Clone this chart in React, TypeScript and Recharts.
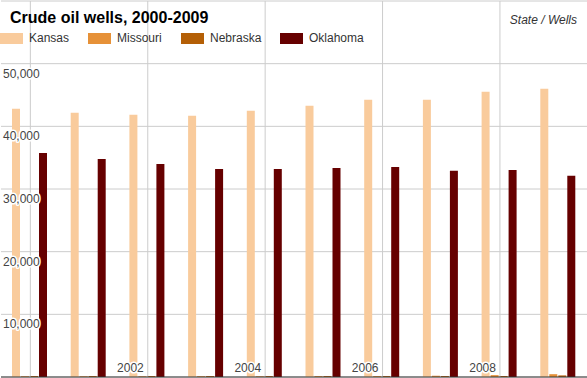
import React from 'react';
import {
  BarChart,
  Bar,
  XAxis,
  YAxis,
  CartesianGrid,
  ReferenceLine,
} from 'recharts';

// Data (wells per state per year)
const years = ['2000', '2001', '2002', '2003', '2004', '2005', '2006', '2007', '2008', '2009'];
const kansas = [42800, 42150, 41850, 41700, 42500, 43300, 44250, 44250, 45500, 46000];
const missouri = [120, 120, 120, 130, 130, 150, 150, 200, 300, 450];
const nebraska = [150, 150, 150, 150, 150, 150, 150, 150, 160, 250];
const oklahoma = [35750, 34800, 34000, 33200, 33200, 33350, 33500, 32900, 33050, 32100];

const yTicks = [0, 10000, 20000, 30000, 40000, 50000, 60000];
const labelledYears = ['2002', '2004', '2006', '2008'];
const gridYears = years.filter((_, i) => i % 2 === 0);

const series = [
  { key: 'Kansas', color: '#f9cb9c', values: kansas },
  { key: 'Missouri', color: '#e69138', values: missouri },
  { key: 'Nebraska', color: '#b45f06', values: nebraska },
  { key: 'Oklahoma', color: '#660000', values: oklahoma },
];

const data = years.map((year, i) => {
  const row: Record<string, string | number> = { year };
  series.forEach((s) => {
    row[s.key] = s.values[i];
  });
  return row;
});

const FONT = '"Liberation Sans", Arial, sans-serif';

const haloText = {
  stroke: '#fff',
  strokeWidth: 3,
  paintOrder: 'stroke' as const,
  strokeLinejoin: 'round' as const,
};

const YTick = (props: any) => {
  const { y, payload } = props;
  if (payload.value === 0 || payload.value === 60000) return <g />;
  return (
    <text x={3} y={y + 14} fontSize={12} fill="#444" fontFamily={FONT} {...haloText}>
      {Number(payload.value).toLocaleString('en-US')}
    </text>
  );
};

const XTick = (props: any) => {
  const { x, y, payload } = props;
  if (!labelledYears.includes(payload.value)) return <g />;
  return (
    <text x={x - 4} y={y - 5} textAnchor="end" fontSize={12} fill="#444" fontFamily={FONT} {...haloText}>
      {payload.value}
    </text>
  );
};

// legend positions taken from the reference layout
const legendLefts = [0, 88, 181, 280];

export default function App() {
  return (
    <div style={{ position: 'absolute', left: 0, top: 0, width: 587, height: 378, background: '#fff', fontFamily: FONT }}>
      <BarChart
        width={588}
        height={378}
        data={data}
        margin={{ top: 1, right: 0, bottom: 0, left: 0 }}
        barCategoryGap={11}
        barGap={1}
      >
        <CartesianGrid vertical={false} stroke="#ccc" />
        {gridYears.map((y) => (
          <ReferenceLine key={y} x={y} stroke="#ccc" strokeWidth={1} />
        ))}
        {series.map((s) => (
          <Bar key={s.key} dataKey={s.key} fill={s.color} isAnimationActive={false} />
        ))}
        <XAxis
          dataKey="year"
          height={1}
          interval={0}
          tickSize={0}
          tickMargin={0}
          tickLine={false}
          axisLine={{ stroke: '#333' }}
          tick={<XTick />}
        />
        <YAxis
          width={1}
          domain={[0, 60000]}
          ticks={yTicks}
          interval={0}
          tickLine={false}
          axisLine={false}
          tick={<YTick />}
        />
      </BarChart>

      <div style={{ position: 'absolute', left: 10, top: 7, fontSize: 16, fontWeight: 'bold', color: '#000', lineHeight: '22px' }}>
        Crude oil wells, 2000-2009
      </div>
      <div style={{ position: 'absolute', right: 10, top: 13, fontSize: 12, fontStyle: 'italic', color: '#333', lineHeight: '14px' }}>
        State / Wells
      </div>
      {series.map((s, i) => (
        <div key={s.key} style={{ position: 'absolute', left: legendLefts[i], top: 33, display: 'flex', alignItems: 'center', height: 11 }}>
          <div style={{ width: 23, height: 11, background: s.color }} />
          <span style={{ marginLeft: 6, fontSize: 12, color: '#333', lineHeight: '11px' }}>{s.key}</span>
        </div>
      ))}
    </div>
  );
}
